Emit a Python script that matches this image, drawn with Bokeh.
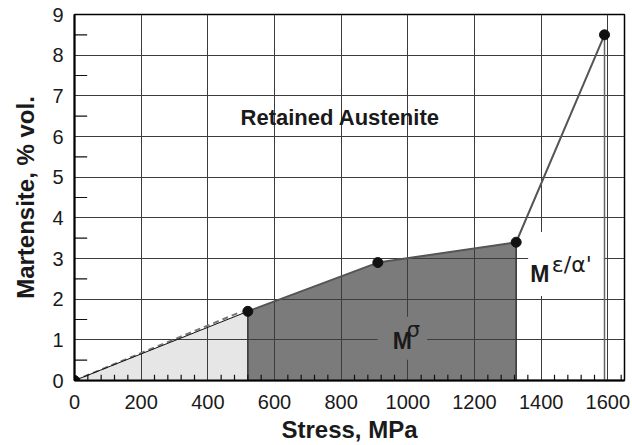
from bokeh.plotting import figure
from bokeh.models import FixedTicker, Range1d
from bokeh.core.properties import value
from bokeh.embed import file_html
from bokeh.resources import INLINE

# ---- data ----
stress = [0, 520, 910, 1325, 1590]          # MPa
martensite = [0.0, 1.7, 2.9, 3.4, 8.5]      # % vol.
dash_stress = [0, 500]
dash_martensite = [0.0, 1.69]
x_ticks = [0, 200, 400, 600, 800, 1000, 1200, 1400, 1600]
y_ticks = [0, 1, 2, 3, 4, 5, 6, 7, 8, 9]
x_minor = [v for v in range(40, 1650, 40) if v % 200 != 0]
y_minor = [v + 0.5 for v in range(0, 9)]

FONT = "Liberation Sans"
GREEK = "DejaVu Sans"
DARK = "#7b7b7b"
LIGHT = "#e6e6e6"

p = figure(width=632, height=445, output_backend="svg", toolbar_location=None,
           x_range=Range1d(0, 1650), y_range=Range1d(0, 9),
           min_border_left=74, min_border_right=8, min_border_top=14,
           min_border_bottom=64)
p.background_fill_color = "white"
p.border_fill_color = "white"
p.outline_line_color = "black"
p.outline_line_width = 1.5

# fills (below grid)
r1 = p.patch(x=[stress[0], stress[1], stress[1]], y=[martensite[0], martensite[1], 0],
             fill_color=LIGHT, line_color=None)
r1.level = "image"
r2 = p.varea(x=stress[1:4], y1=[0] * 3, y2=martensite[1:4], fill_color=DARK)
r2.level = "image"

# grid
p.xgrid.ticker = x_ticks
p.ygrid.ticker = y_ticks
p.grid.grid_line_color = "#3c3c3c"
p.grid.grid_line_width = 1

# label boxes breaking the grid
p.quad(left=[909], right=[1058], bottom=[0.51], top=[1.57], fill_color=DARK, line_color=None)
p.quad(left=[1361], right=[1588], bottom=[2.08], top=[3.65], fill_color="white", line_color=None)

# lines
p.line(dash_stress, dash_martensite, line_color="#777777", line_width=2, line_dash="6 4")
p.line(stress[0:2], martensite[0:2], line_color="#111111", line_width=1)
p.line(stress[1:], martensite[1:], line_color="#555555", line_width=2)
p.segment(x0=[stress[1], stress[3]], y0=[0, 0], x1=[stress[1], stress[3]],
          y1=[martensite[1], martensite[3]], line_color="#333333", line_width=1.5)
p.segment(x0=[stress[4]], y0=[0], x1=[stress[4]], y1=[martensite[4]],
          line_color="#666666", line_width=1.5)

# inward minor ticks (drawn explicitly from the tick lists)
tick_h = 0.14
tick_w = 38.0
p.segment(x0=x_minor, y0=[0.0] * len(x_minor), x1=x_minor, y1=[tick_h] * len(x_minor),
          line_color="#111111", line_width=1.2)
p.segment(x0=[0.0] * len(y_minor), y0=y_minor, x1=[tick_w] * len(y_minor), y1=y_minor,
          line_color="#111111", line_width=1.2)

p.scatter(stress, martensite, size=10, color="#111111")

# annotations
p.text(x=[797], y=[6.47], text=["Retained Austenite"], text_font=value(FONT),
       text_font_style="bold", text_font_size="22px", text_align="center",
       text_baseline="middle", text_color="#1a1a1a")
p.text(x=[955], y=[0.96], text=["M"], text_font=value(FONT), text_font_style="bold",
       text_font_size="23px", text_align="left", text_baseline="middle",
       text_color="#1a1a1a")
p.text(x=[997], y=[1.23], text=["σ"], text_font=value(GREEK),
       text_font_size="21px", text_align="left", text_baseline="middle",
       text_color="#1a1a1a")
p.text(x=[1367], y=[2.62], text=["M"], text_font=value(FONT), text_font_style="bold",
       text_font_size="23px", text_align="left", text_baseline="middle",
       text_color="#1a1a1a")
p.text(x=[1432], y=[2.86], text=["ε/α'"], text_font=value(GREEK),
       text_font_size="22px", text_align="left", text_baseline="middle",
       text_color="#1a1a1a")

# axes
p.xaxis.ticker = FixedTicker(ticks=x_ticks)
p.yaxis.ticker = FixedTicker(ticks=y_ticks)
p.xaxis.axis_label = "Stress, MPa"
p.yaxis.axis_label = "Martensite, % vol."
for ax in (p.xaxis, p.yaxis):
    ax.axis_line_color = "black"
    ax.axis_line_width = 2
    ax.major_tick_out = 0
    ax.major_tick_in = 0
    ax.minor_tick_out = 0
    ax.minor_tick_in = 0
    ax.major_label_text_font = FONT
    ax.major_label_text_font_size = "20px"
    ax.major_label_text_color = "#1a1a1a"
    ax.axis_label_text_font = FONT
    ax.axis_label_text_font_style = "bold"
    ax.axis_label_text_font_size = "24px"
    ax.axis_label_text_color = "#1a1a1a"
p.xaxis.major_label_standoff = 14
p.xaxis.axis_label_standoff = 4
p.yaxis.major_label_standoff = 11
p.yaxis.axis_label_standoff = 10

open("out.html", "w").write(file_html(p, INLINE))
